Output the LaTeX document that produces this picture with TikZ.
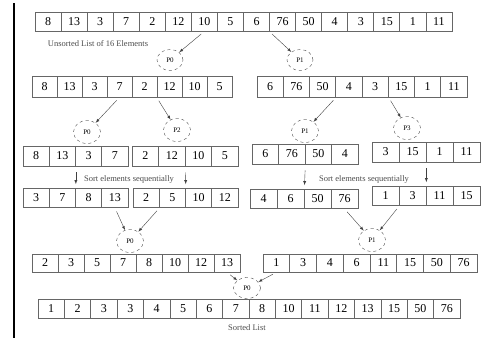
\documentclass[tikz,border=0pt]{standalone}
\usepackage{fontspec}
\setmainfont{Liberation Serif}
\usetikzlibrary{arrows,shapes.geometric,positioning}

\tikzset{
  cell/.style={rectangle,draw=black!60,line width=0.7pt,inner sep=0pt,minimum height=20pt,font=\fontsize{12}{13}\selectfont},
  proc/.style={ellipse,draw=black!70,dashed,minimum width=27pt,minimum height=23pt,inner sep=0pt,font=\fontsize{7}{8}\selectfont},
  note/.style={font=\fontsize{8.5}{9}\selectfont,text=black!70}
}

\begin{document}
\begin{tikzpicture}[x=1pt,y=-1pt]
\useasboundingbox (0,0) rectangle (487,340);
\draw[line width=1.2pt] (14,3) -- (14,338);
% unsorted list
\foreach \v [count=\i] in {8,13,3,7,2,12,10,5,6,76,50,4,3,15,1,11}
  \node[cell,minimum width=26.06pt,minimum height=19pt] (a\i) at ({35+(\i-0.5)*26.06},21.5) {\v};
\node[note] (unsorted) at (98,44) {Unsorted List of 16 Elements};
\node[proc,minimum width=26pt,minimum height=21pt] (p0a) at (170,60) {P0};
\node[proc,minimum width=26pt,minimum height=21pt] (p1a) at (300,60) {P1};
% halves
\foreach \v [count=\i] in {8,13,3,7,2,12,10,5}
  \node[cell,minimum width=25pt,minimum height=21pt] (bl\i) at ({32+(\i-0.5)*25},86.5) {\v};
\foreach \v [count=\i] in {6,76,50,4,3,15,1,11}
  \node[cell,minimum width=26.25pt,minimum height=21pt] (br\i) at ({257+(\i-0.5)*26.25},86.5) {\v};
\node[proc] (p0b) at (87,132) {P0};
\node[proc] (p2b) at (177,130) {P2};
\node[proc] (p1b) at (305,131) {P1};
\node[proc] (p3b) at (407,128) {P3};
% quarters
\foreach \v [count=\i] in {8,13,3,7}
  \node[cell,minimum width=26.25pt] (c1\i) at ({23+(\i-0.5)*26.25},156) {\v};
\foreach \v [count=\i] in {2,12,10,5}
  \node[cell,minimum width=26.5pt] (c2\i) at ({132+(\i-0.5)*26.5},156) {\v};
\foreach \v [count=\i] in {6,76,50,4}
  \node[cell,minimum width=26.5pt] (c3\i) at ({252+(\i-0.5)*26.5},154) {\v};
\foreach \v [count=\i] in {3,15,1,11}
  \node[cell,minimum width=27pt] (c4\i) at ({372+(\i-0.5)*27},152) {\v};
\node[note] (seql) at (129,179) {Sort elements sequentially};
\node[note] (seqr) at (364,179) {Sort elements sequentially};
% sorted quarters
\foreach \v [count=\i] in {3,7,8,13}
  \node[cell,minimum width=26.25pt,minimum height=19pt] (d1\i) at ({23+(\i-0.5)*26.25},198) {\v};
\foreach \v [count=\i] in {2,5,10,12}
  \node[cell,minimum width=26.25pt,minimum height=19pt] (d2\i) at ({133+(\i-0.5)*26.25},198) {\v};
\foreach \v [count=\i] in {4,6,50,76}
  \node[cell,minimum width=27pt,minimum height=19pt] (d3\i) at ({250+(\i-0.5)*27},199) {\v};
\foreach \v [count=\i] in {1,3,11,15}
  \node[cell,minimum width=27pt,minimum height=19pt] (d4\i) at ({372+(\i-0.5)*27},196) {\v};
\node[proc] (p0c) at (130,241) {P0};
\node[proc] (p1c) at (372,240) {P1};
% sorted halves
\foreach \v [count=\i] in {2,3,5,7,8,10,12,13}
  \node[cell,minimum width=26pt,minimum height=18pt] (el\i) at ({32+(\i-0.5)*26},263) {\v};
\foreach \v [count=\i] in {1,3,4,6,11,15,50,76}
  \node[cell,minimum width=26.75pt,minimum height=18pt] (er\i) at ({263+(\i-0.5)*26.75},263) {\v};
\node[proc,minimum height=21pt] (p0d) at (247,288) {P0};
% sorted list
\foreach \v [count=\i] in {1,2,3,3,4,5,6,7,8,10,11,12,13,15,50,76}
  \node[cell,minimum width=26.375pt,minimum height=19pt] (f\i) at ({38+(\i-0.5)*26.375},308.5) {\v};
\node[note] (sorted) at (247,328) {Sorted List};
\path[->,>=latex,black!75,shorten <=4pt]
(a7.south) edge (p0a)
(a10.south west) edge (p1a)
(bl4.south) edge (p0b)
(bl6.south west) edge (p2b)
(br3.south east) edge (p1b)
(br5.south east) edge (p3b)
(d14.south) edge (p0c)
(d21.south east) edge (p0c)
(d34.south) edge (p1c)
(d41.south east) edge (p1c)
(el8.south) edge (p0d)
(er1.south) edge (p0d);
\path[->,>=latex,black!75,shorten <=6pt,shorten >=4pt]
(c12.south east) edge (d12.north east)
(c22.south east) edge (d22.north east)
(c32.south east) edge (d32.north east)
(c42.south east) edge (d42.north east);
\end{tikzpicture}
\end{document}
